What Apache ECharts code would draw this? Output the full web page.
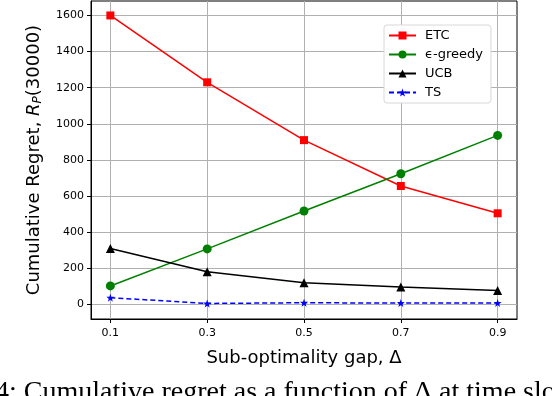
<!DOCTYPE html>
<html>
<head>
<meta charset="utf-8">
<script src="https://cdn.jsdelivr.net/npm/echarts@6/dist/echarts.min.js"></script>
<style>
  html, body { margin: 0; padding: 0; background: #fff; }
  #chart { width: 552px; height: 396px; }
</style>
</head>
<body>
<div id="chart"></div>
<script>
// gaps on the x axis
const gaps = [0.1, 0.3, 0.5, 0.7, 0.9]
const yTicks = [0, 200, 400, 600, 800, 1000, 1200, 1400, 1600]

// regret values
const etc = [1600, 1230, 910, 656, 505]
const greedy = [103, 308, 518, 724, 936]
const ucb = [310, 182, 120, 97, 78]
const ts = [38, 6, 10, 8, 9]

const font = 'DejaVu Sans'

function pairs(vals) {
  return gaps.map((g, i) => [g, vals[i]])
}

const chart = echarts.init(document.getElementById('chart'))

const option = {
  animation: false,
  backgroundColor: '#fff',
  textStyle: { fontFamily: font },
  grid: {
    left: 91, right: 35, top: 1, bottom: 77,
    show: true, borderColor: '#000', borderWidth: 1
  },
  legend: {
    orient: 'vertical',
    left: 384, top: 25,
    itemWidth: 27, itemHeight: 10, itemGap: 6,
    padding: [4, 8, 4, 4],
    backgroundColor: '#fff',
    borderColor: '#d8d8d8', borderWidth: 1, borderRadius: 3,
    textStyle: { fontFamily: font, fontSize: 13, color: '#000', padding: [0, 0, 0, 4] },
    data: ['ETC', 'ϵ-greedy', 'UCB', 'TS']
  },
  xAxis: {
    type: 'value',
    min: 0.06, max: 0.94,
    name: 'Sub-optimality gap, Δ',
    nameLocation: 'middle',
    nameGap: 30,
    nameTextStyle: { fontFamily: font, fontSize: 18, color: '#000' },
    axisLine: { onZero: false, lineStyle: { color: '#000' } },
    axisTick: { customValues: gaps, length: 4, lineStyle: { color: '#000' } },
    axisLabel: {
      customValues: gaps, margin: 9,
      fontFamily: font, fontSize: 11, color: '#000',
      formatter: v => v.toFixed(1)
    },
    splitLine: { show: true, customValues: gaps, lineStyle: { color: '#b0b0b0', width: 1 } }
  },
  yAxis: {
    type: 'value',
    min: -80, max: 1680,
    name: 'Cumulative Regret, {i|R}{s|P}(30000)',
    nameLocation: 'middle',
    nameGap: 47,
    nameTextStyle: {
      fontFamily: font, fontSize: 18, color: '#000',
      rich: {
        i: { fontFamily: font, fontSize: 18, fontStyle: 'italic', color: '#000' },
        s: { fontFamily: font, fontSize: 12, fontStyle: 'italic', color: '#000', verticalAlign: 'bottom', padding: [7, 0, 0, 0] }
      }
    },
    axisLine: { onZero: false, lineStyle: { color: '#000' } },
    axisTick: { customValues: yTicks, length: 4, lineStyle: { color: '#000' } },
    axisLabel: {
      customValues: yTicks, margin: 7,
      fontFamily: font, fontSize: 11, color: '#000',
      formatter: v => String(v)
    },
    splitLine: { show: true, customValues: yTicks, lineStyle: { color: '#b0b0b0', width: 1 } }
  },
  graphic: [{
    type: 'text',
    left: -5, top: 379,
    style: {
      text: '4: Cumulative regret as a function of Δ at time slot',
      font: '28px "Liberation Serif"',
      fill: '#000'
    }
  }],
  series: [
    {
      name: 'ETC', type: 'line', data: pairs(etc),
      symbol: 'rect', symbolSize: 8,
      lineStyle: { color: '#ff0000', width: 1.5 },
      itemStyle: { color: '#ff0000' }
    },
    {
      name: 'ϵ-greedy', type: 'line', data: pairs(greedy),
      symbol: 'circle', symbolSize: 9,
      lineStyle: { color: '#008000', width: 1.5 },
      itemStyle: { color: '#008000' }
    },
    {
      name: 'UCB', type: 'line', data: pairs(ucb),
      symbol: 'triangle', symbolSize: 9,
      lineStyle: { color: '#000', width: 1.5 },
      itemStyle: { color: '#000' }
    },
    {
      name: 'TS', type: 'line', data: pairs(ts),
      symbol: 'path://M0,-10L2.35,-3.24L9.51,-3.09L3.8,1.24L5.88,8.09L0,4L-5.88,8.09L-3.8,1.24L-9.51,-3.09L-2.35,-3.24Z',
      symbolSize: 8,
      lineStyle: { color: '#0000ff', width: 1.5, type: [5, 3] },
      itemStyle: { color: '#0000ff' }
    }
  ]
}

chart.setOption(option)
</script>
</body>
</html>
